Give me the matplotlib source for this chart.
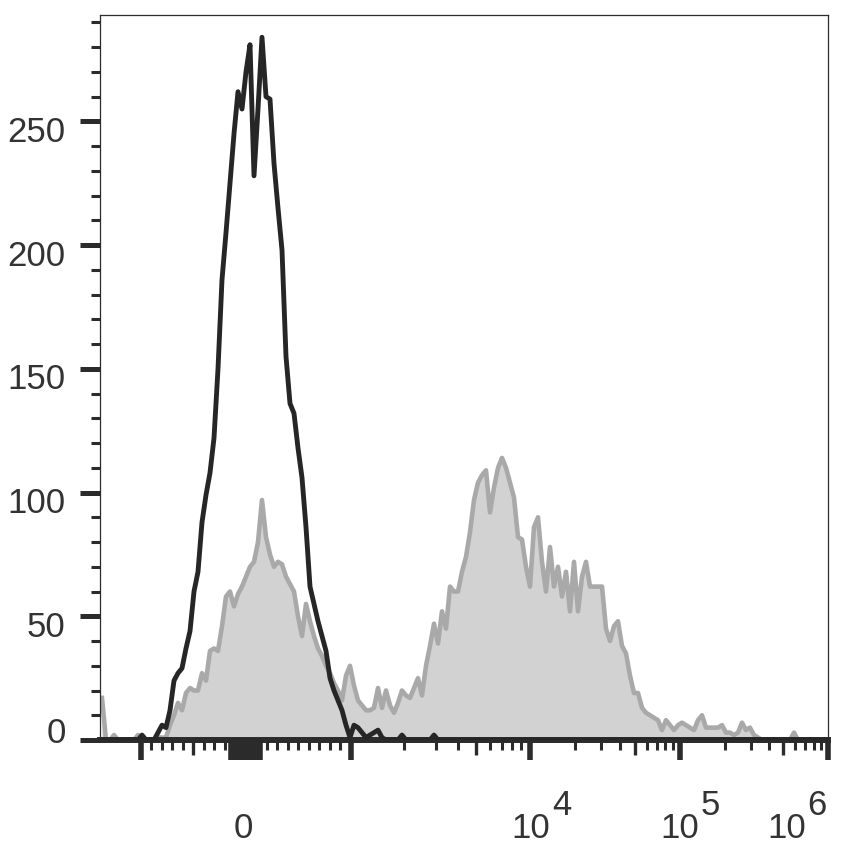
import numpy as np
import matplotlib.pyplot as plt

plt.rcParams['font.family'] = ['Liberation Sans', 'DejaVu Sans']

# histogram counts per display channel (4 px wide bins, left to right)
unstained = [0, 0, 0, 0, 0, 0, 0, 0, 0, 0,
             2, 0, 0, 0, 3, 6, 5, 12, 24, 27,
             29, 37, 44, 60, 68, 88, 99, 108, 122, 150,
             186, 205, 225, 245, 262, 255, 270, 281, 228, 255,
             284, 260, 259, 233, 215, 198, 155, 136, 132, 118,
             106, 86, 62, 55, 48, 42, 36, 25, 20, 16,
             12, 6, 1, 6, 5, 3, 1, 2, 3, 4,
             1, 0, 0, 0, 0, 2, 0, 0, 0, 0,
             0, 0, 0, 2, 0, 0, 0, 0, 0, 0]
unstained += [0] * (182 - len(unstained))

stained = [17, 0, 0, 2, 0, 0, 0, 0, 0, 2,
           0, 0, 0, 0, 1, 1, 1, 6, 10, 15,
           12, 19, 21, 20, 20, 27, 24, 36, 37, 36,
           46, 58, 60, 54, 59, 62, 66, 70, 72, 80,
           97, 82, 75, 70, 72, 71, 66, 63, 60, 50,
           42, 55, 48, 42, 37, 34, 30, 27, 23, 20,
           16, 26, 30, 22, 16, 14, 12, 12, 13, 21,
           13, 20, 14, 11, 15, 20, 18, 17, 21, 25,
           18, 30, 38, 47, 39, 52, 45, 62, 60, 60,
           68, 74, 84, 97, 104, 107, 109, 92, 102, 110,
           114, 110, 104, 98, 82, 81, 70, 62, 86, 90,
           72, 60, 78, 62, 70, 58, 68, 52, 72, 52,
           66, 72, 62, 62, 62, 62, 45, 40, 46, 48,
           38, 35, 26, 19, 19, 13, 11, 10, 9, 8,
           4, 8, 6, 4, 6, 7, 6, 5, 4, 8,
           10, 5, 5, 5, 5, 6, 3, 3, 2, 3,
           7, 4, 5, 2, 1, 0, 0, 0, 0, 0,
           0, 0, 0, 3, 0, 0, 0, 0, 0, 0,
           0, 0]

y_major = [0, 50, 100, 150, 200, 250]
y_minor = [v for v in range(10, 300, 10) if v % 50]

x_major = [-1000, 1000, 1e4, 1e5, 1e6]
x_zero = [-140, -115, -90, -65, -40, -15, 10, 35, 60, 85, 110, 135]
x_lin_minor = [-900, -800, -700, -600, -400, -300, -200,
               200, 300, 400, 500, 600, 700, 800, 900]
x_log_minor = [m * 10 ** d for d in (3, 4, 5) for m in (2, 3, 4, 6, 7, 8, 9)]
x_log_mid = [-500, 5e3, 5e4, 5e5]


def to_channel(v):
    # biexponential-like display: linear around zero, log above 10^3
    v = np.asarray(v, float)
    a = np.abs(v)
    px = np.where(a <= 1000, 245.75 + v * 0.10475, 0.0)
    lg = np.log10(np.maximum(a, 1000))
    pos = np.interp(lg, [3, 4, 5, 6], [350.5, 529.6, 680, 828])
    neg = 141 - (lg - 3) * 179
    px = np.where(v > 1000, pos, px)
    px = np.where(v < -1000, neg, px)
    return (px - 100) / 4


fig = plt.figure(figsize=(8.43, 8.5), dpi=100)
ax = fig.add_axes([100 / 843, 110 / 850, 728 / 843, 725 / 850])

ch = np.arange(len(stained)) + 0.5
ax.fill_between(ch, stained, color='#d2d2d2', lw=0, zorder=1)
ax.plot(ch, stained, color='#a9a9aa', lw=3.3, zorder=2)
ax.plot(ch, unstained, color='#262626', lw=3.5, zorder=3)

ax.set_xlim(0, 182)
ax.set_ylim(0, 293)

ink = '#2b2b2b'
for s in ('left', 'top', 'right'):
    ax.spines[s].set_linewidth(0.9)
    ax.spines[s].set_color(ink)
ax.spines['bottom'].set_linewidth(4.3)
ax.spines['bottom'].set_color(ink)

ax.set_yticks(y_major)
ax.set_yticks(y_minor, minor=True)
ax.tick_params(axis='y', which='major', length=14.5, width=3.6, color=ink,
               labelleft=False)
ax.tick_params(axis='y', which='minor', length=6.5, width=2.2, color=ink)

ax.set_xticks(to_channel(x_major + x_zero))
ax.set_xticks(to_channel(x_lin_minor + x_log_minor), minor=True)
ax.tick_params(axis='x', which='major', length=14.5, width=4.0, color=ink,
               labelbottom=False)
ax.tick_params(axis='x', which='minor', length=7, width=2.2, color=ink)

sec = ax.secondary_xaxis('bottom')
sec.set_xticks(to_channel(x_log_mid))
sec.tick_params(length=11, width=2.4, color=ink, labelbottom=False)
sec.spines['bottom'].set_visible(False)

# y labels sit a little below their ticks
for v in y_major:
    yy = v - 4.5 if v else 2.8
    ax.text(-0.047, yy, str(v), transform=ax.get_yaxis_transform(),
            ha='right', va='center', fontsize=25, color='#333333')

# x labels
xt = ax.get_xaxis_transform()
ax.text(to_channel(0) - 0.7, -0.122, '0', transform=xt, ha='center',
        va='center', fontsize=25, color='#333333')
for exp, dx in ((4, 21), (5, 19), (6, -22)):
    c = to_channel(10.0 ** exp) + dx / 4
    ax.text(c, -0.122, '10', transform=xt, ha='right', va='center',
            fontsize=25, color='#333333')
    ax.text(c + 0.3, -0.09, str(exp), transform=xt, ha='left', va='center',
            fontsize=25, color='#333333')

fig.savefig('out.png', dpi=100)
